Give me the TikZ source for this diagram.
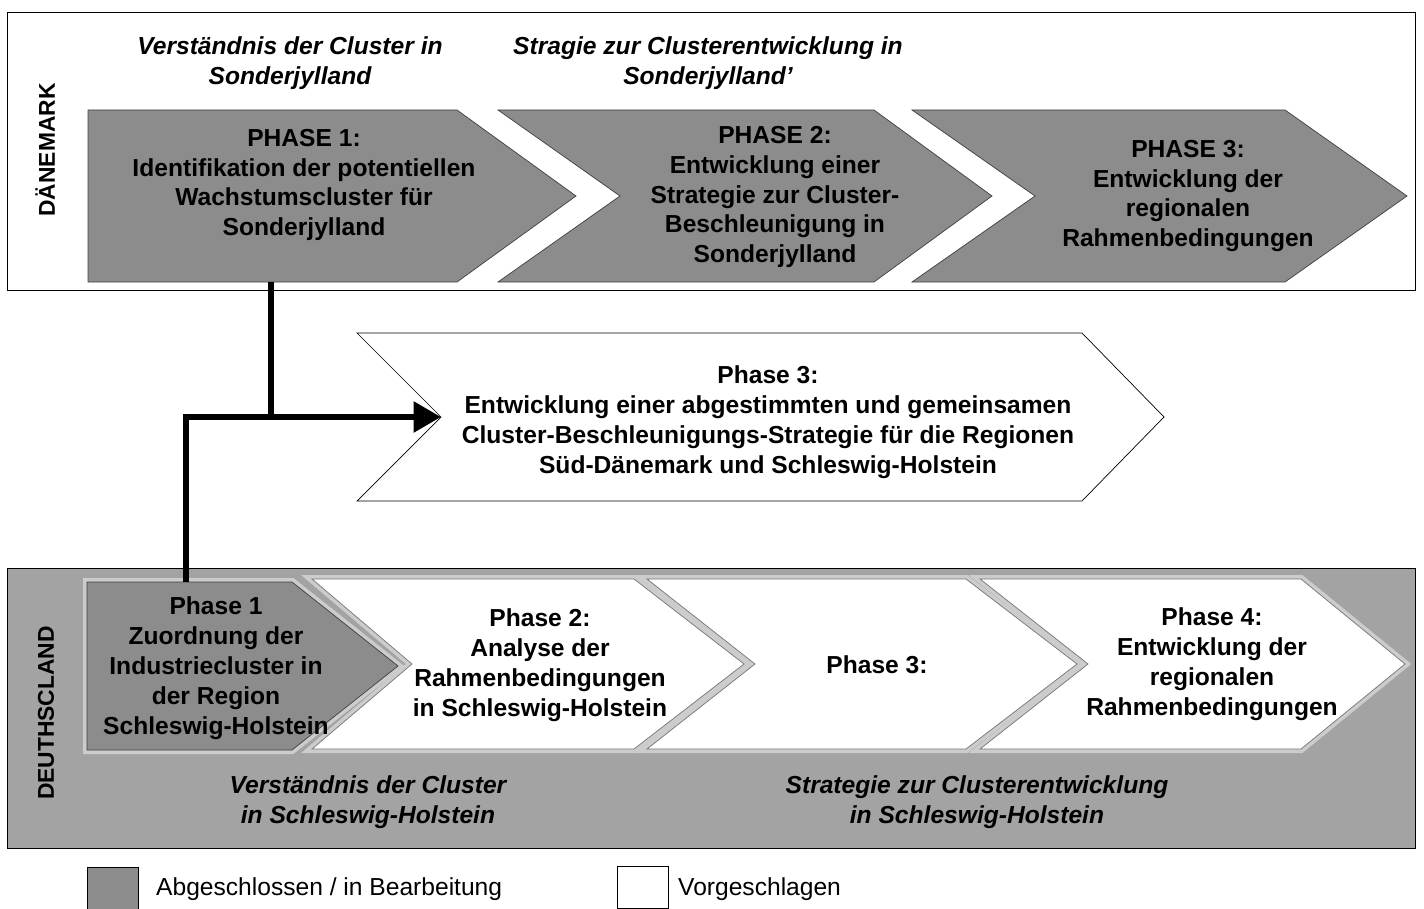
\documentclass[tikz,border=0pt]{standalone}
\usepackage{fontspec}
\setmainfont{Liberation Sans}
\usetikzlibrary{arrows.meta}
\definecolor{dunkelgrau}{gray}{0.55}
\definecolor{kastengrau}{gray}{0.64}
\definecolor{randgrau}{gray}{0.80}

\tikzset{
	phasetext/.style={align=center,font=\bfseries\fontsize{14}{17}\selectfont},
	kursivtext/.style={align=center,font=\bfseries\itshape\fontsize{14}{17}\selectfont},
	landtext/.style={rotate=90,font=\bfseries\fontsize{13}{15}\selectfont},
	legtext/.style={anchor=west,font=\fontsize{14}{17}\selectfont},
	dunkelpfeil/.style={fill=dunkelgrau,draw=black!75,thin},
	weisspfeil/.style={fill=white,draw=black!55,thin},
	randband/.style={draw=randgrau,line width=0.16cm},
	verbindung/.style={line width=0.12cm,black},
}

\begin{document}
\begin{tikzpicture}[x=0.02cm,y=-0.02cm]
	\useasboundingbox (0,0) rectangle (1424,909);
	% Dänemark
	\draw[thin] (7,12) rectangle (1415,290);
	\node[landtext] (dk) at (45,150) {DÄNEMARK};
	\node[kursivtext] (dkverst) at (290,63) {Verständnis der Cluster in\\Sonderjylland};
	\node[kursivtext] (dkstrat) at (708,63) {Stragie zur Clusterentwicklung in\\Sonderjylland'};
	\draw[dunkelpfeil] (88,110) -- (457,110) -- (576,196) -- (457,282) -- (88,282) -- cycle;
	\draw[dunkelpfeil] (498,110) -- (874,110) -- (992,196) -- (874,282) -- (498,282) -- (620,196) -- cycle;
	\draw[dunkelpfeil] (912,110) -- (1285,110) -- (1407,196) -- (1285,282) -- (912,282) -- (1035,196) -- cycle;
	\node[phasetext] (dk1) at (304,185) {PHASE 1:\\Identifikation der potentiellen\\Wachstumscluster für\\Sonderjylland};
	\node[phasetext] (dk2) at (775,197) {PHASE 2:\\Entwicklung einer\\Strategie zur Cluster-\\Beschleunigung in\\Sonderjylland};
	\node[phasetext] (dk3) at (1188,196) {PHASE 3:\\Entwicklung der\\regionalen\\Rahmenbedingungen};
	\coordinate (dk1s) at (271,282);

	% gemeinsame Phase 3
	\draw[thin,fill=white] (357,333) -- (1082,333) -- (1164,417) -- (1082,501) -- (357,501) -- (441,417) -- cycle;
	\node[phasetext] (mitte) at (768,422) {Phase 3:\\Entwicklung einer abgestimmten und gemeinsamen\\Cluster-Beschleunigungs-Strategie für die Regionen\\Süd-Dänemark und Schleswig-Holstein};
	\coordinate (mittew) at (441,417);

	% Deutschland
	\draw[thin,fill=kastengrau] (7,568) rectangle (1415,848);
	\node[landtext] (de) at (46,713) {DEUTHSCLAND};
	\draw[randband] (980,579) -- (1301,579) -- (1405,664) -- (1301,749) -- (980,749) -- (1088,664) -- cycle;
	\draw[weisspfeil] (980,579) -- (1301,579) -- (1405,664) -- (1301,749) -- (980,749) -- (1088,664) -- cycle;
	\draw[randband] (647,579) -- (966,579) -- (1077,664) -- (966,749) -- (647,749) -- (755,664) -- cycle;
	\draw[weisspfeil] (647,579) -- (966,579) -- (1077,664) -- (966,749) -- (647,749) -- (755,664) -- cycle;
	\draw[randband] (312,579) -- (634,579) -- (744,664) -- (634,749) -- (312,749) -- (412,664) -- cycle;
	\draw[weisspfeil] (312,579) -- (634,579) -- (744,664) -- (634,749) -- (312,749) -- (412,664) -- cycle;
	\draw[randband] (87,582) -- (292,582) -- (398,666) -- (292,750) -- (87,750) -- cycle;
	\draw[dunkelpfeil] (87,582) -- (292,582) -- (398,666) -- (292,750) -- (87,750) -- cycle;
	\node[phasetext] (de1) at (216,668) {Phase 1\\Zuordnung der\\Industriecluster in\\der Region\\Schleswig-Holstein};
	\node[phasetext] (de2) at (540,665) {Phase 2:\\Analyse der\\Rahmenbedingungen\\in Schleswig-Holstein};
	\node[phasetext] (de3) at (877,665) {Phase 3:};
	\node[phasetext] (de4) at (1212,664) {Phase 4:\\Entwicklung der\\regionalen\\Rahmenbedingungen};
	\node[kursivtext] (deverst) at (368,802) {Verständnis der Cluster\\in Schleswig-Holstein};
	\node[kursivtext] (destrat) at (977,802) {Strategie zur Clusterentwicklung\\in Schleswig-Holstein};
	\coordinate (de1n) at (186,582);

	% Verbindung
	\draw[verbindung] (dk1s) -- (dk1s |- mittew);
	\draw[verbindung,-{Triangle[length=0.55cm,width=0.6cm]}] (de1n) |- (mittew);

	% Legende
	\draw[thin,fill=dunkelgrau] (87,867) rectangle (138,910);
	\node[legtext] (leg1) at (150,889) {Abgeschlossen / in Bearbeitung};
	\draw[thin,fill=white] (617,866) rectangle (668,908);
	\node[legtext] (leg2) at (672,889) {Vorgeschlagen};
\end{tikzpicture}
\end{document}
